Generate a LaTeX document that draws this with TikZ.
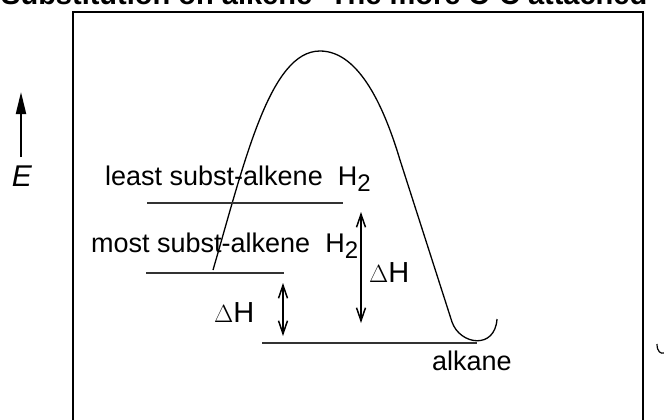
\documentclass[tikz,border=0pt]{standalone}
\usepackage{fontspec}
\setmainfont{Liberation Sans}
\usetikzlibrary{arrows.meta}
\tikzset{
  lbl/.style={anchor=base west, inner sep=0pt, font=\fontsize{27}{27}\selectfont},
  dh/.style={anchor=base west, inner sep=0pt, font=\fontsize{29}{29}\selectfont},
  level/.style={line width=1.2pt, draw=black!80},
  dharrow/.style={line width=1.5pt, {Straight Barb[length=13pt,width=9pt]}-{Straight Barb[length=13pt,width=9pt]}},
}
\newcommand{\Hsub}{H\raisebox{-0.45ex}{\fontsize{24}{24}\selectfont 2}}
\begin{document}
\begin{tikzpicture}[x=1pt,y=-1pt]
\useasboundingbox (0,0) rectangle (664,420);
\clip (0,0) rectangle (664,420);
% title (cut off at top)
\node[anchor=base west, inner sep=0pt, font=\fontsize{29}{29}\selectfont\bfseries] (title) at (1,5) {Substitution on alkene- The more C-C attached};
% frame
\draw[line width=2.5pt] (73,425) -- (73,12) -- (643,12) -- (643,425);
% energy axis
\coordinate (ebot) at (21,157);
\coordinate (etop) at (21,92);
\draw[line width=2pt, -{Triangle[length=22pt,width=10pt]}] (ebot) -- (etop);
\node[inner sep=0pt, font=\fontsize{30}{30}\selectfont\itshape] (E) at (22,176) {E};
% energy curve
\coordinate (cstart) at (213,270);
\coordinate (cpeak) at (320,51);
\coordinate (cend) at (497,319);
\draw[line width=1.3pt] (cstart) .. controls (245,160) and (270,51) .. (cpeak)
  .. controls (360,51) and (385,110) .. (400,160) -- (452,322)
  .. controls (460,345) and (495,350) .. (cend);
% levels
\coordinate (l1a) at (147,203); \coordinate (l1b) at (343,203);
\coordinate (l2a) at (146,273); \coordinate (l2b) at (284,273);
\coordinate (l3a) at (262,343); \coordinate (l3b) at (477,343);
\draw[level] (l1a) -- (l1b);
\draw[level] (l2a) -- (l2b);
\draw[level] (l3a) -- (l3b);
% labels
\node[lbl] (least) at (105,185) {least subst-alkene\ \ \Hsub};
\node[lbl] (most) at (91,252) {most subst-alkene\ \ \Hsub};
\node[lbl] (alkane) at (432,370) {alkane};
\node[dh] (dh1) at (214,322) {$\Delta$H};
\node[dh] (dh2) at (369,282) {$\Delta$H};
% enthalpy arrows
\coordinate (a1t) at (283,283); \coordinate (a1b) at (283,336);
\coordinate (a2t) at (361,212); \coordinate (a2b) at (361,323);
\draw[dharrow] (a1t) -- (a1b);
\draw[dharrow] (a2t) -- (a2b);
% small curl at right edge
\coordinate (k1) at (657,344); \coordinate (k2) at (664,353);
\draw[line width=1.2pt] (k1) .. controls (657,352) and (661,354) .. (k2);
\end{tikzpicture}
\end{document}
